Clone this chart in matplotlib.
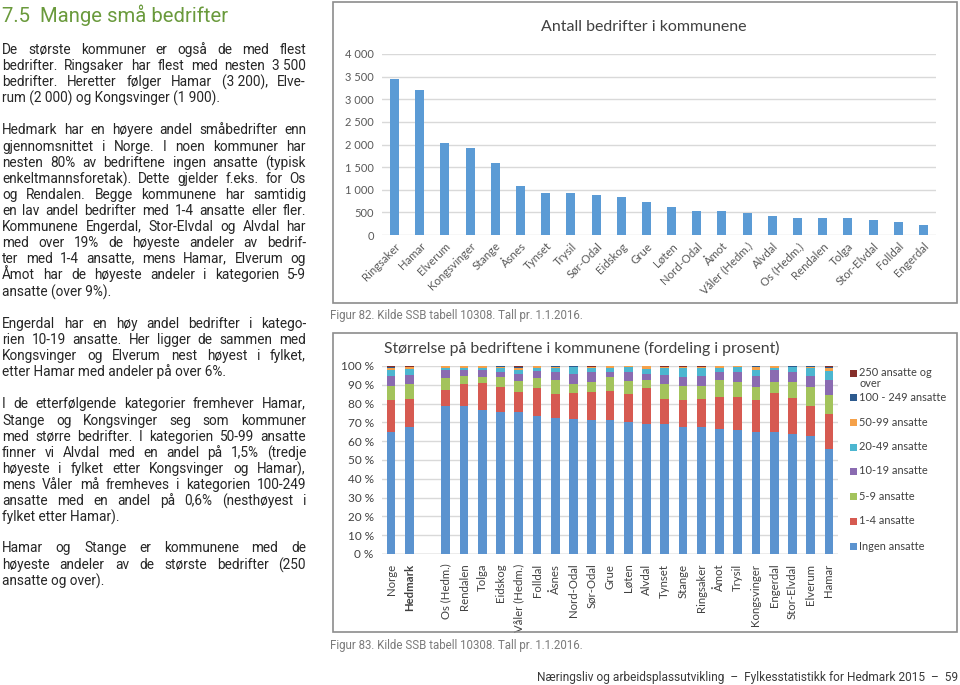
import math
import matplotlib
matplotlib.use("Agg")
import matplotlib.pyplot as plt
from matplotlib.patches import Rectangle
from matplotlib.font_manager import FontProperties, findfont, get_font
from matplotlib.backends.backend_agg import get_hinting_flag
import numpy as np

# ---------------- data ----------------
kommuner1 = ["Ringsaker", "Hamar", "Elverum", "Kongsvinger", "Stange", "Åsnes", "Tynset",
             "Trysil", "Sør-Odal", "Eidskog", "Grue", "Løten", "Nord-Odal", "Åmot",
             "Våler (Hedm.)", "Alvdal", "Os (Hedm.)", "Rendalen", "Tolga", "Stor-Elvdal",
             "Folldal", "Engerdal"]
antall = [3450, 3200, 2040, 1930, 1590, 1090, 920, 920, 890, 840, 730, 610, 530, 530,
          480, 420, 370, 370, 370, 340, 290, 230]
yticks1 = [0, 500, 1000, 1500, 2000, 2500, 3000, 3500, 4000]
yticklabels1 = ["0", "500", "1 000", "1 500", "2 000", "2 500", "3 000", "3 500", "4 000"]

kommuner2 = ["Norge", "Hedmark", "", "Os (Hedm.)", "Rendalen", "Tolga", "Eidskog",
             "Våler (Hedm.)", "Folldal", "Åsnes", "Nord-Odal", "Sør-Odal", "Grue", "Løten",
             "Alvdal", "Tynset", "Stange", "Ringsaker", "Åmot", "Trysil", "Kongsvinger",
             "Engerdal", "Stor-Elvdal", "Elverum", "Hamar"]
ingen = [65.0, 67.3, 0, 78.6, 78.6, 76.5, 75.4, 75.4, 73.3, 72.6, 72.0, 71.5, 71.5, 70.1,
         69.2, 69.2, 67.3, 67.3, 66.7, 65.8, 65.0, 65.0, 63.7, 62.8, 56.1]
a1_4 = [17.0, 15.2, 0, 8.8, 11.7, 14.5, 13.4, 10.8, 14.8, 12.7, 13.7, 14.7, 15.2, 15.2,
        19.2, 13.5, 14.8, 15.4, 16.8, 17.7, 16.8, 20.7, 19.2, 15.8, 18.6]
a5_9 = [7.4, 7.8, 0, 6.2, 4.6, 3.2, 5.4, 5.8, 5.5, 7.4, 4.9, 5.3, 7.5, 6.7,
        4.3, 7.9, 7.3, 6.7, 9.2, 8.0, 7.0, 5.8, 8.6, 10.2, 9.7]
a10_19 = [5.3, 5.1, 0, 4.4, 3.1, 3.8, 2.8, 3.9, 3.6, 4.1, 5.3, 5.3, 2.6, 4.8,
          3.2, 4.8, 4.8, 5.1, 4.1, 5.3, 6.0, 6.2, 5.3, 6.1, 8.0]
a20_49 = [3.2, 3.2, 0, 1.2, 1.2, 1.2, 2.1, 2.2, 2.0, 2.4, 3.5, 2.3, 2.1, 2.5,
          2.4, 3.7, 4.8, 4.5, 2.4, 2.5, 3.2, 1.5, 2.6, 4.3, 4.8]
a50_99 = [1.0, 0.7, 0, 0.6, 0.6, 0.6, 0.2, 0.9, 0.6, 0.5, 0.1, 0.3, 1.0, 0.5,
          1.5, 0.4, 0.3, 0.5, 0.6, 0.5, 1.6, 0.6, 0.2, 0.4, 1.6]
a100_249 = [0.6, 0.4, 0, 0.2, 0.2, 0.2, 0.7, 0.6, 0.2, 0.2, 0.4, 0.3, 0.1, 0.1,
            0.2, 0.2, 0.2, 0.2, 0.2, 0.1, 0.2, 0.2, 0.4, 0.2, 0.7]
a250 = [0.5, 0.3, 0, 0.0, 0.0, 0.0, 0.0, 0.4, 0.0, 0.1, 0.1, 0.3, 0.0, 0.1,
        0.0, 0.3, 0.5, 0.3, 0.0, 0.1, 0.2, 0.0, 0.0, 0.2, 0.5]
serier = ["Ingen ansatte", "1-4 ansatte", "5-9 ansatte", "10-19 ansatte", "20-49 ansatte",
          "50-99 ansatte", "100 - 249 ansatte", "250 ansatte og\nover"]
yticks2 = [0, 10, 20, 30, 40, 50, 60, 70, 80, 90, 100]
yticklabels2 = ["%d %%" % v for v in yticks2]

tittel = "7.5  Mange små bedrifter"
avsnitt = [
    ["De største kommuner er også de med flest",
     "bedrifter. Ringsaker har flest med nesten 3\u00a0500",
     "bedrifter. Heretter følger Hamar (3\u00a0200), Elve-",
     "rum (2\u00a0000) og Kongsvinger (1\u00a0900)."],
    ["Hedmark har en høyere andel småbedrifter enn",
     "gjennomsnittet i Norge. I noen kommuner har",
     "nesten 80% av bedriftene ingen ansatte (typisk",
     "enkeltmannsforetak). Dette gjelder f.eks. for Os",
     "og Rendalen. Begge kommunene har samtidig",
     "en lav andel bedrifter med 1-4 ansatte eller fler.",
     "Kommunene Engerdal, Stor-Elvdal og Alvdal har",
     "med over 19% de høyeste andeler av bedrif-",
     "ter med 1-4 ansatte, mens Hamar, Elverum og",
     "Åmot har de høyeste andeler i kategorien 5-9",
     "ansatte (over 9%)."],
    ["Engerdal har en høy andel bedrifter i katego-",
     "rien 10-19 ansatte. Her ligger de sammen med",
     "Kongsvinger og Elverum nest høyest i fylket,",
     "etter Hamar med andeler på over 6%."],
    ["I de etterfølgende kategorier fremhever Hamar,",
     "Stange og Kongsvinger seg som kommuner",
     "med større bedrifter. I kategorien 50-99 ansatte",
     "finner vi Alvdal med en andel på 1,5% (tredje",
     "høyeste i fylket etter Kongsvinger og Hamar),",
     "mens Våler må fremheves i kategorien 100-249",
     "ansatte med en andel på 0,6% (nesthøyest i",
     "fylket etter Hamar)."],
    ["Hamar og Stange er kommunene med de",
     "høyeste andeler av de største bedrifter (250",
     "ansatte og over)."],
]
avsnitt_y = [49, 130, 323, 404, 548]
fig82 = "Figur 82. Kilde SSB tabell 10308. Tall pr. 1.1.2016."
fig83 = "Figur 83. Kilde SSB tabell 10308. Tall pr. 1.1.2016."
bunntekst = "Næringsliv og arbeidsplassutvikling  –  Fylkesstatistikk for Hedmark 2015  –  59"

# ---------------- figure ----------------
W, H = 960, 685
fig = plt.figure(figsize=(W / 100, H / 100), dpi=100)
renderer = fig.canvas.get_renderer()

def fx(x):
    return x / W

def fy(y):
    return 1 - y / H

BODY = "Roboto"
CHART = "Lato"
txtcol = "#262626"

# title with width fit
t = fig.text(fx(2), fy(22), tittel, color="#6a9a3c", fontsize=15, family=BODY)
w = t.get_window_extent(renderer).width
t.set_fontsize(15 * 227 / w)

# body text, justified
allines = [l for p in avsnitt for l in p[:-1]]
fs = 9.8
while True:
    ws = []
    for l in allines:
        tt = fig.text(0, 0, l, fontsize=fs, family=BODY)
        ws.append(tt.get_window_extent(renderer).width)
        tt.remove()
    if max(ws) <= 303 or fs < 7:
        break
    fs -= 0.1

_ftfont = get_font(findfont(FontProperties(family=BODY, size=fs)))

def baseline_fix(s, base):
    """y (px from top) so that Agg's pixel rounding puts every word on the same baseline."""
    try:
        _ftfont.clear()
        _ftfont.set_size(fs, 100)
        _ftfont.set_text(s, 0, flags=get_hinting_flag())
        d = _ftfont.get_descent() / 64.0
        hh = _ftfont.get_width_height()[1] / 64.0
        ymax = hh - d
        return base + int(hh) - math.floor(ymax) - d
    except Exception:
        return base

def put(x, yb, s):
    return fig.text(fx(x), fy(baseline_fix(s, yb)), s, fontsize=fs, family=BODY,
                    color=txtcol, va="baseline")

def justified(lines, x0, x1, y0, dy):
    for i, line in enumerate(lines):
        yb = round(y0 + i * dy + 4.5)
        words = line.split(" ")
        if i == len(lines) - 1 or len(words) == 1:
            put(x0, yb, line)
            continue
        texts = [fig.text(0, 0, wd, fontsize=fs, family=BODY) for wd in words]
        widths = [tt.get_window_extent(renderer).width for tt in texts]
        for tt in texts:
            tt.remove()
        gap = (x1 - x0 - sum(widths)) / (len(words) - 1)
        x = x0
        for wd, wdt in zip(words, widths):
            put(x, yb, wd)
            x += wdt + gap

for p, y0 in zip(avsnitt, avsnitt_y):
    justified(p, 2, 306, y0, 16.1)

# boxes
for (x0, y0, x1, y1) in [(333, 2, 957, 303), (333, 333, 957, 632)]:
    fig.patches.append(Rectangle((fx(x0), fy(y1)), fx(x1) - fx(x0), fy(y0) - fy(y1),
                                 transform=fig.transFigure, fill=False,
                                 edgecolor="#8c8c8c", lw=1.2))

# captions
fig.text(fx(330), fy(316), fig82, fontsize=8.3, family=BODY, color="#7a7a7a", va="center")
fig.text(fx(330), fy(645), fig83, fontsize=8.3, family=BODY, color="#7a7a7a", va="center")
fig.text(fx(958), fy(677), bunntekst, fontsize=8.6, family=BODY, color="#3a3a3a",
         va="center", ha="right")

# ---------------- chart 1 ----------------
ax1 = fig.add_axes([fx(382), fy(235), (936 - 382) / W, (235 - 54) / H])
x1 = np.arange(len(kommuner1))
ax1.bar(x1, antall, width=0.36, color="#5b9bd5", zorder=3)
ax1.set_xlim(-0.5, len(kommuner1) - 0.5)
ax1.set_ylim(0, 4000)
ax1.set_yticks(yticks1)
ax1.set_yticklabels(yticklabels1, fontsize=8, family=CHART, color="#595959")
ax1.set_xticks(x1)
ax1.set_xticklabels(kommuner1, rotation=45, ha="right", va="top", rotation_mode="anchor",
                    fontsize=8.2, family=CHART, color="#595959")
ax1.tick_params(length=0, pad=6)
ax1.tick_params(axis="x", pad=4)
ax1.grid(axis="y", color="#d9d9d9", lw=1, zorder=0)
for s in ax1.spines.values():
    s.set_visible(False)
fig.text(fx(644), fy(27), "Antall bedrifter i kommunene", ha="center", va="center",
         fontsize=11.5, family=CHART, color="#404040")

# ---------------- chart 2 ----------------
ax2 = fig.add_axes([fx(382), fy(554), (838 - 382) / W, (554 - 366) / H])
x2 = np.arange(len(kommuner2))
farger = ["#5b93cf", "#d65a51", "#a3c35c", "#8a6bb1", "#4cb6d0", "#f5a14a", "#2d5a8e", "#862f2a"]
data = [ingen, a1_4, a5_9, a10_19, a20_49, a50_99, a100_249, a250]
bunn = np.zeros(len(kommuner2))
for vals, c, lab in zip(data, farger, serier):
    ax2.bar(x2, vals, bottom=bunn, width=0.48, color=c, zorder=3, label=lab)
    bunn += np.array(vals)
ax2.set_xlim(-0.5, len(kommuner2) - 0.5)
ax2.set_ylim(0, 100)
ax2.set_yticks(yticks2)
ax2.set_yticklabels(yticklabels2, fontsize=8.5, family=CHART, color="#404040")
ax2.set_xticks(x2)
ax2.set_xticklabels(kommuner2, rotation=90, ha="center", va="top",
                    fontsize=8.2, family=CHART, color="#404040")
for lbl in ax2.get_xticklabels():
    if lbl.get_text() == "Hedmark":
        lbl.set_fontweight("bold")
ax2.tick_params(length=0, pad=6)
ax2.tick_params(axis="x", pad=7)
ax2.grid(axis="y", color="#d9d9d9", lw=1, zorder=0)
for s in ax2.spines.values():
    s.set_visible(False)
ax2.axhline(0, color="#bfbfbf", lw=1, zorder=2)
fig.text(fx(384), fy(348), "Størrelse på bedriftene i kommunene (fordeling i prosent)",
         ha="left", va="center", fontsize=11.3, family=CHART, color="#404040")

# manual legend (Excel style: top entry = last series)
leg_y = [546, 521, 496, 471, 447, 422, 397, 373]
for lab, c, yy in zip(serier, farger, leg_y):
    fig.patches.append(Rectangle((fx(850), fy(yy + 3.5)), 7 / W, 7 / H,
                                 transform=fig.transFigure, facecolor=c, edgecolor="none"))
    if "\n" in lab:
        fig.text(fx(859), fy(yy - 6.5), lab, ha="left", va="top", fontsize=7.9,
                 family=CHART, color="#404040", linespacing=1.05)
    else:
        fig.text(fx(859), fy(yy), lab, ha="left", va="center", fontsize=7.9,
                 family=CHART, color="#404040")

fig.savefig("out.png", dpi=100)
